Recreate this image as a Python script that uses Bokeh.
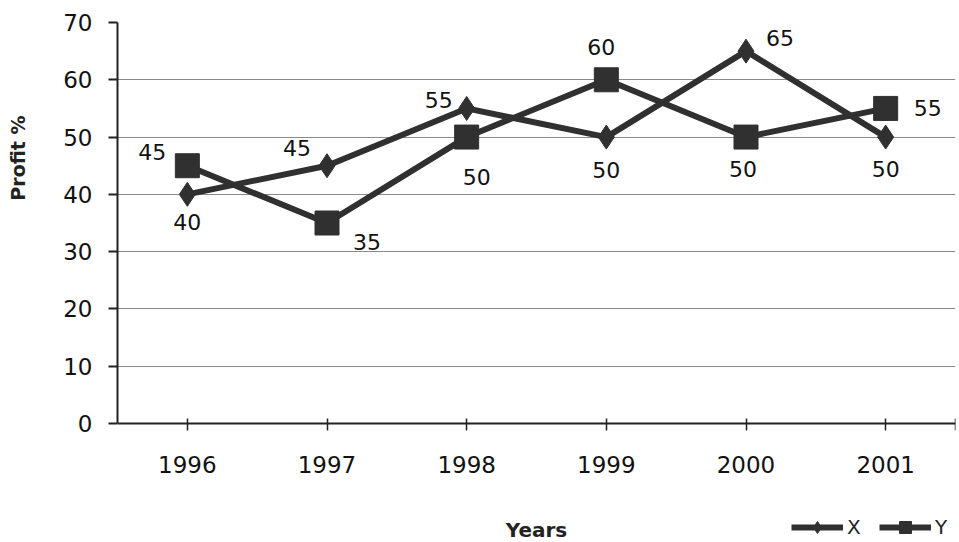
from bokeh.plotting import figure
from bokeh.models import ColumnDataSource, Range1d, FixedTicker, Legend, LegendItem, Title
from bokeh.core.properties import value
from bokeh.embed import file_html
from bokeh.resources import INLINE

# ---- data ----
years = ["1996", "1997", "1998", "1999", "2000", "2001"]
x_profit = [40, 45, 55, 50, 65, 50]
y_profit = [45, 35, 50, 60, 50, 55]
y_ticks = [0, 10, 20, 30, 40, 50, 60, 70]

# label placement (pixels, y downward)
x_lab_dx = [0, -30, -28, 0, 34, 0]
x_lab_dy = [28, -18, -8, 33, -13, 32]
y_lab_dx = [-35, 40, 10, -5, -3, 42]
y_lab_dy = [-14, 19, 40, -33, 32, 0]

FONT = "DejaVu Sans"
INK = "#303030"

idx = list(range(len(years)))

p = figure(width=959, height=542, output_backend="svg", toolbar_location=None,
           title=None,
           x_range=Range1d(-0.5, len(years) - 0.5), y_range=Range1d(-20.77, 70),
           min_border_left=117, min_border_right=4, min_border_top=22,
           min_border_bottom=0)
p.outline_line_color = None
p.background_fill_color = "white"
p.border_fill_color = "white"
p.xgrid.visible = False
p.ygrid.grid_line_color = "#8a8a8a"
p.ygrid.grid_line_width = 1
p.ygrid.ticker = FixedTicker(ticks=y_ticks)

# y axis
ya = p.yaxis[0]
ya.ticker = FixedTicker(ticks=y_ticks)
ya.bounds = (0, 70)
ya.major_tick_out = 9
ya.major_tick_in = 0
ya.minor_tick_out = 0
ya.minor_tick_in = 0
ya.axis_line_width = 2
ya.axis_line_color = "#222222"
ya.major_tick_line_width = 2
ya.major_tick_line_color = "#222222"
ya.major_label_standoff = 16
ya.major_label_text_font = FONT
ya.major_label_text_font_size = "23px"
ya.major_label_text_color = "#111111"

# x axis (sits on the zero line)
xa = p.xaxis[0]
xa.fixed_location = 0
xa.ticker = FixedTicker(ticks=idx + [len(years) - 0.5])
overrides = {i: y for i, y in zip(idx, years)}
overrides[len(years) - 0.5] = ""
xa.major_label_overrides = overrides
xa.major_tick_out = 7
xa.major_tick_in = 5
xa.minor_tick_out = 0
xa.minor_tick_in = 0
xa.axis_line_width = 2
xa.axis_line_color = "#222222"
xa.major_tick_line_width = 1.5
xa.major_tick_line_color = "#222222"
xa.major_label_standoff = 25
xa.major_label_text_font = FONT
xa.major_label_text_font_size = "23px"
xa.major_label_text_color = "#111111"
xa.axis_label = "Years"
xa.axis_label_standoff = 42
xa.axis_label_text_font = FONT
xa.axis_label_text_font_size = "20px"
xa.axis_label_text_font_style = "bold"
xa.axis_label_text_color = "#222222"

# spacer between the tick labels and the y title, then the y title itself
spacer = Title(text=" ", standoff=28, text_font=FONT, text_font_size="2px")
p.add_layout(spacer, "left")
ytitle = Title(text="Profit %", align="right", offset=93, standoff=0,
               text_font=FONT, text_font_size="19px", text_font_style="bold",
               text_color="#222222")
p.add_layout(ytitle, "left")

# series
lx = p.line(idx, x_profit, line_width=6, line_color=INK)
sx = p.scatter(idx, x_profit, marker="diamond", size=24, fill_color=INK, line_color=INK)
ly = p.line(idx, y_profit, line_width=6, line_color=INK)
sy = p.scatter(idx, y_profit, marker="square", size=24, fill_color=INK, line_color=INK)

# data labels
src_x = ColumnDataSource(dict(x=idx, y=x_profit, t=[str(v) for v in x_profit],
                              dx=x_lab_dx, dy=x_lab_dy))
src_y = ColumnDataSource(dict(x=idx, y=y_profit, t=[str(v) for v in y_profit],
                              dx=y_lab_dx, dy=y_lab_dy))
for s in (src_x, src_y):
    p.text(x="x", y="y", text="t", x_offset="dx", y_offset="dy", source=s,
           text_align="center", text_baseline="middle",
           text_font=value(FONT), text_font_size="22px", text_color="#111111")

legend = Legend(items=[LegendItem(label="X", renderers=[lx, sx]),
                       LegendItem(label="Y", renderers=[ly, sy])],
                orientation="horizontal", location="bottom_right",
                glyph_width=52, glyph_height=30, label_standoff=4, spacing=12,
                padding=2, margin=0, border_line_color=None,
                background_fill_alpha=0,
                label_text_font=FONT, label_text_font_size="20px",
                label_text_color="#222222")
p.add_layout(legend, "center")

open("out.html", "w").write(file_html(p, INLINE))
